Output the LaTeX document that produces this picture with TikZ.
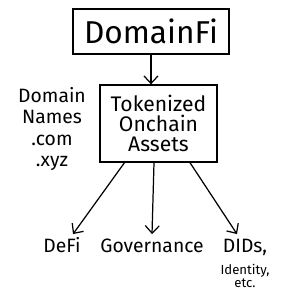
\documentclass[tikz,border=0pt]{standalone}
\usepackage{fontspec}
\setmainfont{Fira Sans}
\usetikzlibrary{arrows.meta,positioning}

\begin{document}
\begin{tikzpicture}[
  x=0.02cm, y=-0.02cm,
  bx/.style={draw, line width=0.75pt, inner sep=2pt, align=center},
  lbl/.style={inner sep=2pt, align=center, text height=8pt, anchor=base,
    font=\fontsize{11}{12}\selectfont},
  arr/.style={-{Straight Barb[length=1.5mm, width=2.8mm]}, line width=0.7pt}
]
\useasboundingbox (0,0) rectangle (300,300);
\node[bx, minimum width=3.12cm, minimum height=0.9cm,
  font=\fontsize{18}{20}\selectfont] (dfi) at (151,31.5) {DomainFi};
\node[bx, minimum width=2.34cm, minimum height=1.54cm,
  font=\fontsize{12}{11.6}\selectfont] (tok) at (158.5,123.5)
  {Tokenized\\Onchain\\Assets};
\node[align=center, font=\fontsize{11}{12.3}\selectfont] (dom) at (52,129)
  {Domain\\Names\\.com\\.xyz};
\node[lbl] (defi) at (62,252) {DeFi};
\node[lbl] (gov) at (152,252) {Governance};
\node[lbl] (dids) at (245,252) {DIDs,};
\node[align=center, inner sep=0pt, below=3pt of dids,
  font=\fontsize{7.5}{7.4}\selectfont] (idt) {Identity,\\etc.};
\draw[arr] (dfi.south) -- (dfi.south |- tok.north);
\draw[arr] ([xshift=-0.68cm]tok.south) -- ([xshift=0.22cm]defi.north);
\draw[arr] ([xshift=-0.09cm]tok.south) -- (gov.north);
\draw[arr] ([xshift=0.63cm]tok.south) -- ([xshift=-0.16cm]dids.north);
\end{tikzpicture}
\end{document}
